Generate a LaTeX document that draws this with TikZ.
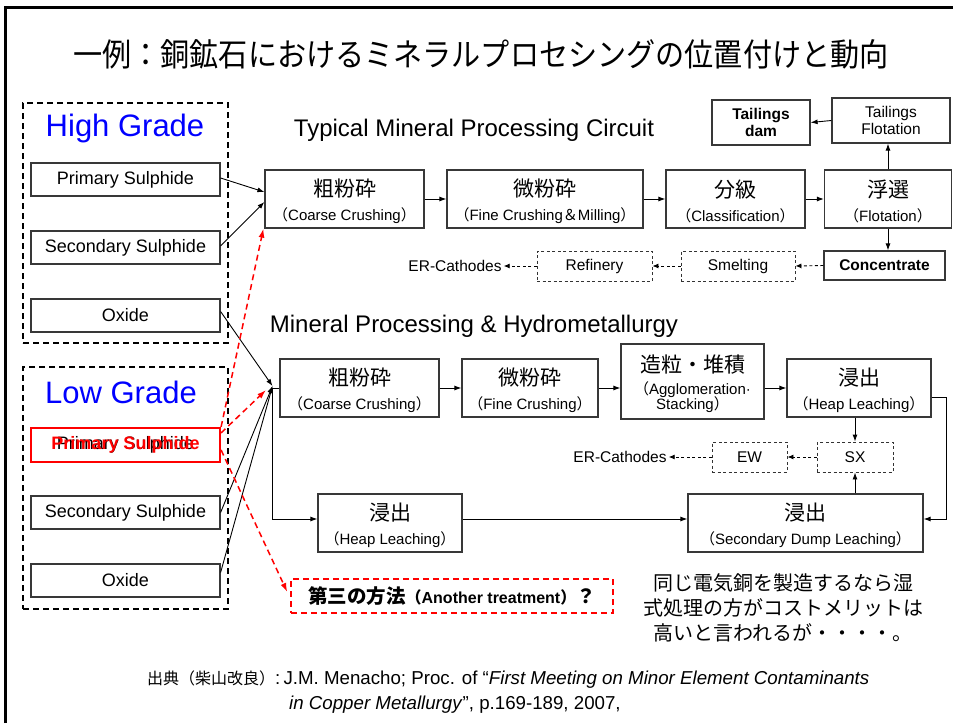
\documentclass[tikz,border=0pt]{standalone}
\usepackage{fontspec}
\setmainfont{Liberation Sans}
\newfontfamily\jp{Noto Sans CJK JP}
\usetikzlibrary{arrows.meta,calc}

% full-width brackets taken from the Japanese face
\newcommand\lpar{{\jp （}}
\newcommand\rpar{{\jp ）}}
\newcommand\jt[1]{{\jp\fontsize{21}{24}\selectfont\rule{0pt}{22.5pt}#1}}

\tikzset{
  arr/.style={-{Latex[length=7pt,width=5pt]}, line width=0.9pt},
  darr/.style={-{Latex[length=6pt,width=5pt]}, line width=0.9pt, dash pattern=on 3pt off 2.5pt},
  redarr/.style={-{Latex[length=9pt,width=6pt]}, red, line width=1.5pt, dash pattern=on 6pt off 4pt},
  procbox/.style={draw=black!78, line width=1.2pt, fill=white, inner sep=0pt, align=center},
  orebox/.style={procbox, minimum width=189pt, minimum height=33pt, font=\fontsize{18}{20}\selectfont},
  stage/.style={procbox, minimum height=58pt, font=\fontsize{15}{24}\selectfont},
  smallbox/.style={procbox, font=\fontsize{15.5}{17}\selectfont},
  dbox/.style={draw=black!80, line width=0.9pt, dash pattern=on 3pt off 2.5pt, inner sep=0pt,
    minimum height=30pt, font=\fontsize{15.5}{17}\selectfont},
  gradebox/.style={draw=black, line width=1.5pt, dash pattern=on 6pt off 4pt, inner sep=0pt},
  gradelabel/.style={text=blue, font=\fontsize{31}{34}\selectfont, inner sep=0pt},
  heading/.style={font=\fontsize{24}{26}\selectfont, inner sep=0pt},
  plain/.style={font=\fontsize{15.5}{17}\selectfont, inner sep=2pt},
  source/.style={anchor=west, font=\fontsize{18.7}{20}\selectfont, inner sep=0pt},
}

\begin{document}
\begin{tikzpicture}[x=1pt, y=-1pt]
\useasboundingbox (0,0) rectangle (953,723);
\fill[white] (0,0) rectangle (953,723);

% slide frame
\draw[line width=3pt] (5,723) -- (5,7) -- (953,7);

% title
\node (title) at (481,54) {\scalebox{0.91}[1]{\jp\fontsize{32}{32}\selectfont 一例：銅鉱石におけるミネラルプロセシングの位置付けと動向}};

% ore grade groups
\node[gradebox, minimum width=205pt, minimum height=240pt] (hg) at (125.5,223) {};
\node[gradebox, minimum width=205pt, minimum height=242pt] (lg) at (125.5,488) {};
\node[gradelabel] (hgl) at (125,128) {High Grade};
\node[gradelabel] (lgl) at (121,392) {Low Grade};

\node[orebox] (hps) at (125.5,179.5) {Primary Sulphide};
\node[orebox] (hss) at (125.5,247.5) {Secondary Sulphide};
\node[orebox] (hox) at (125.5,315.5) {Oxide};

\node[orebox, draw=red, line width=2.2pt, minimum height=34pt] (lps) at (125.5,445) {};
\node[font=\fontsize{18}{20}\selectfont] (lpsa) at (lps) {Primary Sulphide};
\node[font=\fontsize{18}{20}\selectfont\bfseries, text=red] (lpsb) at (lps) {Primary Sulphide};
\node[orebox] (lss) at (125.5,512.5) {Secondary Sulphide};
\node[orebox] (lox) at (125.5,580.5) {Oxide};

% typical circuit
\node[heading] (h1) at (474,130) {Typical Mineral Processing Circuit};
\node[stage, minimum width=159pt] (tcc) at (344.5,199) {\jt{粗粉砕}\\\lpar Coarse Crushing\rpar};
\node[stage, minimum width=196pt] (tfc) at (545,199) {\jt{微粉砕}\\\lpar Fine Crushing{\jp ＆}Milling\rpar};
\node[stage, minimum width=139pt] (tcl) at (735.5,199) {\jt{分級}\\\lpar Classification\rpar};
\node[stage, minimum width=127pt] (tfl) at (888,199) {\jt{浮選}\\\lpar Flotation\rpar};
\node[smallbox, minimum width=118pt, minimum height=45pt] (tff) at (891,120.5) {Tailings\\Flotation};
\node[smallbox, minimum width=98pt, minimum height=45pt, font=\fontsize{15.5}{17}\selectfont\bfseries] (tdm) at (761,122.5) {Tailings\\dam};
\node[smallbox, minimum width=121pt, minimum height=29pt, font=\fontsize{15.5}{17}\selectfont\bfseries] (con) at (884.5,265.5) {Concentrate};
\node[dbox, minimum width=114pt] (sme) at (738,266) {Smelting};
\node[dbox, minimum width=115pt] (ref) at (594.5,266) {Refinery};
\node[plain] (erc1) at (455,266) {ER-Cathodes};

\draw[arr] (tcc.east) -- (tfc.west);
\draw[arr] (tfc.east) -- (tcl.west);
\draw[arr] (tcl.east) -- (tfl.west);
\draw[arr] (tfl.north) -- (tfl.north |- tff.south);
\draw[arr] (tff.west) -- (tdm.east);
\draw[arr] (tfl.south) -- (tfl.south |- con.north);
\draw[darr] (con.west) -- (sme.east);
\draw[darr] (sme.west) -- (ref.east);
\draw[darr] (ref.west) -- (erc1.east);

\draw[arr] ([yshift=1.5pt]hps.east) -- ([yshift=7pt]tcc.west);
\draw[arr] ([yshift=1.5pt]hss.east) -- ([yshift=-3pt]tcc.west);

% hydrometallurgy route
\node[heading] (h2) at (474,326) {Mineral Processing \& Hydrometallurgy};
\node[stage, minimum width=159pt] (bcc) at (359.5,388) {\jt{粗粉砕}\\\lpar Coarse Crushing\rpar};
\node[stage, minimum width=136pt] (bfc) at (530,388) {\jt{微粉砕}\\\lpar Fine Crushing\rpar};
\node[stage, minimum width=143pt, minimum height=75pt] (bag) at (692.5,381.5) {\jt{造粒・堆積}\\[-2pt]\lpar Agglomeration·\\[-9pt]Stacking\rpar};
\node[stage, minimum width=144pt] (bhl) at (859,388) {\jt{浸出}\\\lpar Heap Leaching\rpar};
\node[dbox, minimum width=76pt] (sx) at (855,457) {SX};
\node[dbox, minimum width=75pt] (ew) at (749.5,457) {EW};
\node[plain] (erc2) at (620,457) {ER-Cathodes};
\node[stage, minimum width=144pt] (hl2) at (390,523) {\jt{浸出}\\\lpar Heap Leaching\rpar};
\node[stage, minimum width=235pt] (sdl) at (805.5,523) {\jt{浸出}\\\lpar Secondary Dump Leaching\rpar};

\coordinate (cv) at (272.5,386);
\draw[arr] ([yshift=4pt]hox.east) -- (cv);
\draw[arr] (lss.east) -- (cv);
\draw[arr] ([yshift=8pt]lox.east) -- (cv);
\draw[arr] (bcc.west) -- (cv |- bcc.west) |- ([yshift=4pt]hl2.west);

\draw[arr] (bcc.east) -- (bfc.west);
\draw[arr] (bfc.east) -- (bfc.east -| bag.west);
\draw[arr] (bhl.west -| bag.east) -- (bhl.west);
\draw[arr] (sx.north |- bhl.south) -- (sx.north);
\draw[arr] (sx.south |- sdl.north) -- (sx.south);
\draw[darr] (sx.west) -- (ew.east);
\draw[darr] (ew.west) -- (erc2.east);
\draw[arr] ([yshift=-9pt]bhl.east) -- ++(15,0) |- ([yshift=4pt]sdl.east);
\draw[arr] ([yshift=4pt]hl2.east) -- ([yshift=4pt]sdl.west);

% a third route
\node[draw=red, line width=1.5pt, dash pattern=on 6pt off 4pt, minimum width=322pt, minimum height=34pt, inner sep=0pt] (atr) at (452,596)
  {\bfseries{\jp\fontsize{19.5}{20}\selectfont 第三の方法}{\fontsize{16}{16}\selectfont\lpar Another treatment\rpar}{\jp\fontsize{19.5}{20}\selectfont ？}};
\coordinate (rv) at (266,390);
\draw[redarr] (lps.north east) -- ([xshift=-1pt]tcc.south west);
\draw[redarr] ([yshift=-6pt]lps.north east) -- (rv);
\draw[redarr] ([yshift=-5pt]lps.east) -- ([xshift=-3pt,yshift=4pt]atr.west);

% remark
\node[align=center, font=\jp\fontsize{20}{25}\selectfont, inner sep=0pt] (note) at (783,608)
  {同じ電気銅を製造するなら湿\\式処理の方がコストメリットは\\高いと言われるが・・・・。};

% source
\node[source] (cit1) at (147,680)
  {{\jp\fontsize{16}{18}\selectfont 出典（柴山改良）}:\,J.M. Menacho; Proc. of “\textit{First Meeting on Minor Element Contaminants}};
\node[source] (cit2) at (289,705)
  {\textit{in Copper Metallurgy}”, p.169-189, 2007,};
\end{tikzpicture}
\end{document}
